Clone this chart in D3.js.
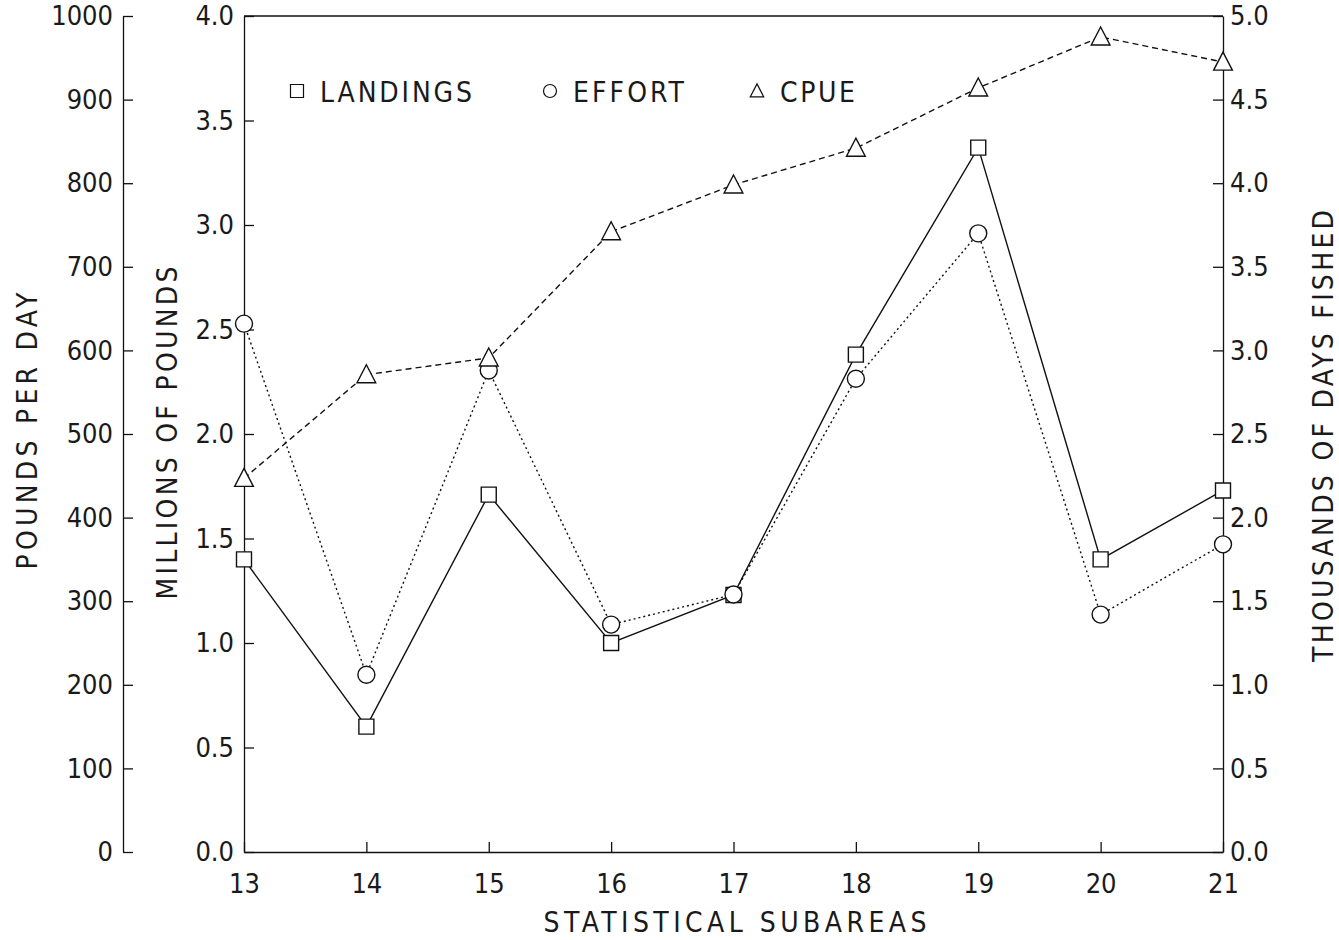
<!DOCTYPE html>
<html>
<head>
<meta charset="utf-8">
<script src="https://cdn.jsdelivr.net/npm/d3@7"></script>
<style>
  body { margin: 0; background: #fff; }
  text { font-family: "DejaVu Sans Condensed", "DejaVu Sans", sans-serif; fill: #1a1a1a; }
</style>
</head>
<body>
<div id="chart"></div>
<script>
// Data
const subareas = [13, 14, 15, 16, 17, 18, 19, 20, 21]
// millions of pounds
const landings = [1.40, 0.60, 1.71, 1.00, 1.23, 2.38, 3.37, 1.40, 1.73]
// thousands of days fished
const effort = [3.16, 1.06, 2.88, 1.36, 1.54, 2.83, 3.70, 1.42, 1.84]
// pounds per day
const cpue = [447, 571, 591, 742, 798, 842, 914, 975, 945]

const cpueTicks = [0, 100, 200, 300, 400, 500, 600, 700, 800, 900, 1000]
const millionTicks = [0, 0.5, 1.0, 1.5, 2.0, 2.5, 3.0, 3.5, 4.0]
const thousandTicks = [0, 0.5, 1.0, 1.5, 2.0, 2.5, 3.0, 3.5, 4.0, 4.5, 5.0]

async function draw() {

  // Dimensions
  let dimensions = {
    width: 1339,
    height: 940,
    left: 244,
    right: 1223,
    top: 16,
    bottom: 852,
    outerAxis: 123
  }

  const svg = d3.select('#chart')
    .append('svg')
    .attr('width', dimensions.width)
    .attr('height', dimensions.height)

  // Scales
  const xScale = d3.scaleLinear()
    .domain([13, 21])
    .range([dimensions.left, dimensions.right])

  const yMillions = d3.scaleLinear()
    .domain([0, 4])
    .range([dimensions.bottom, dimensions.top])

  const yThousands = d3.scaleLinear()
    .domain([0, 5])
    .range([dimensions.bottom, dimensions.top])

  const yPounds = d3.scaleLinear()
    .domain([0, 1000])
    .range([dimensions.bottom, dimensions.top])

  const tickFont = 27

  // frame top line
  svg.append('line')
    .attr('x1', dimensions.left).attr('x2', dimensions.right)
    .attr('y1', dimensions.top).attr('y2', dimensions.top)
    .attr('stroke', '#111').attr('stroke-width', 1.3)

  // Axis - outer pounds per day
  svg.append('g')
    .attr('transform', `translate(${dimensions.outerAxis}, 0)`)
    .call(d3.axisLeft(yPounds).tickValues(cpueTicks).tickSizeInner(-10).tickSizeOuter(0).tickPadding(10).tickFormat(d3.format('d')))

  // Axis - millions of pounds
  svg.append('g')
    .attr('transform', `translate(${dimensions.left}, 0)`)
    .call(d3.axisLeft(yMillions).tickValues(millionTicks).tickSizeInner(-10).tickSizeOuter(0).tickPadding(10).tickFormat(d3.format('.1f')))

  // Axis - thousands of days
  svg.append('g')
    .attr('transform', `translate(${dimensions.right}, 0)`)
    .call(d3.axisRight(yThousands).tickValues(thousandTicks).tickSizeInner(-10).tickSizeOuter(0).tickPadding(7).tickFormat(d3.format('.1f')))

  // Axis - subareas
  svg.append('g')
    .attr('transform', `translate(0, ${dimensions.bottom})`)
    .call(d3.axisBottom(xScale).tickValues(subareas).tickSizeInner(-10).tickSizeOuter(0).tickPadding(22).tickFormat(d3.format('d')))

  svg.selectAll('.tick text').style('font-size', tickFont + 'px')
  svg.selectAll('.domain, .tick line').attr('stroke', '#111').attr('stroke-width', 1.3)

  // Axis titles, stretched to the span they take in the original
  const titleFont = 28
  const titles = [
    { text: 'POUNDS PER DAY', x: 37, y: 431, len: 277, rotate: true },
    { text: 'MILLIONS OF POUNDS', x: 177, y: 433, len: 333, rotate: true },
    { text: 'THOUSANDS OF DAYS FISHED', x: 1333, y: 436, len: 452, rotate: true },
    { text: 'STATISTICAL SUBAREAS', x: 735, y: 932, len: 383, rotate: false }
  ]
  titles.forEach(t => {
    svg.append('text')
      .attr('transform', t.rotate ? `translate(${t.x}, ${t.y}) rotate(-90)` : `translate(${t.x}, ${t.y})`)
      .attr('text-anchor', 'middle')
      .attr('textLength', t.len)
      .attr('lengthAdjust', 'spacing')
      .style('font-size', titleFont + 'px')
      .text(t.text)
  })

  // Series
  const series = [
    { name: 'LANDINGS', values: landings, y: yMillions, shape: 'square', dash: null },
    { name: 'EFFORT', values: effort, y: yThousands, shape: 'circle', dash: '2,3' },
    { name: 'CPUE', values: cpue, y: yPounds, shape: 'triangle', dash: '6,4' }
  ]

  const symbolPath = (shape, size) => {
    if (shape === 'square') return d3.symbol(d3.symbolSquare, size * size)()
    if (shape === 'circle') return d3.symbol(d3.symbolCircle, Math.PI * (size / 2) * (size / 2))()
    // plotter style triangle
    const h = size
    return `M0,${-h * 0.55}L${h * 0.52},${h * 0.45}L${-h * 0.52},${h * 0.45}Z`
  }
  const markerSize = { square: 15, circle: 17, triangle: 18 }

  series.forEach(s => {
    const lineGenerator = d3.line()
      .x((d, i) => xScale(subareas[i]))
      .y(d => s.y(d))

    svg.append('path')
      .datum(s.values)
      .attr('d', lineGenerator)
      .attr('fill', 'none')
      .attr('stroke', '#111')
      .attr('stroke-width', 1.4)
      .attr('stroke-dasharray', s.dash)
  })

  // markers on top, white filled so lines break around them
  series.forEach(s => {
    svg.append('g')
      .selectAll('path')
      .data(s.values)
      .join('path')
      .attr('transform', (d, i) => `translate(${xScale(subareas[i])}, ${s.y(d)})`)
      .attr('d', symbolPath(s.shape, markerSize[s.shape]))
      .attr('fill', '#fff')
      .attr('stroke', '#111')
      .attr('stroke-width', 1.4)
  })

  // Legend
  const legendItems = [
    { shape: 'square', text: 'LANDINGS', x: 297, len: 152 },
    { shape: 'circle', text: 'EFFORT', x: 550, len: 111 },
    { shape: 'triangle', text: 'CPUE', x: 757, len: 75 }
  ]
  const legend = svg.append('g').attr('transform', 'translate(0, 91)')
  legendItems.forEach(item => {
    legend.append('path')
      .attr('transform', `translate(${item.x}, 0)`)
      .attr('d', symbolPath(item.shape, 13))
      .attr('fill', 'none')
      .attr('stroke', '#111')
      .attr('stroke-width', 1.2)
    legend.append('text')
      .attr('x', item.x + 23)
      .attr('y', 11)
      .attr('textLength', item.len)
      .attr('lengthAdjust', 'spacing')
      .style('font-size', '28px')
      .text(item.text)
  })

  console.log("Chart Loaded")
}

draw().catch(e => {
  console.log("Error: ", e)
})
</script>
</body>
</html>
